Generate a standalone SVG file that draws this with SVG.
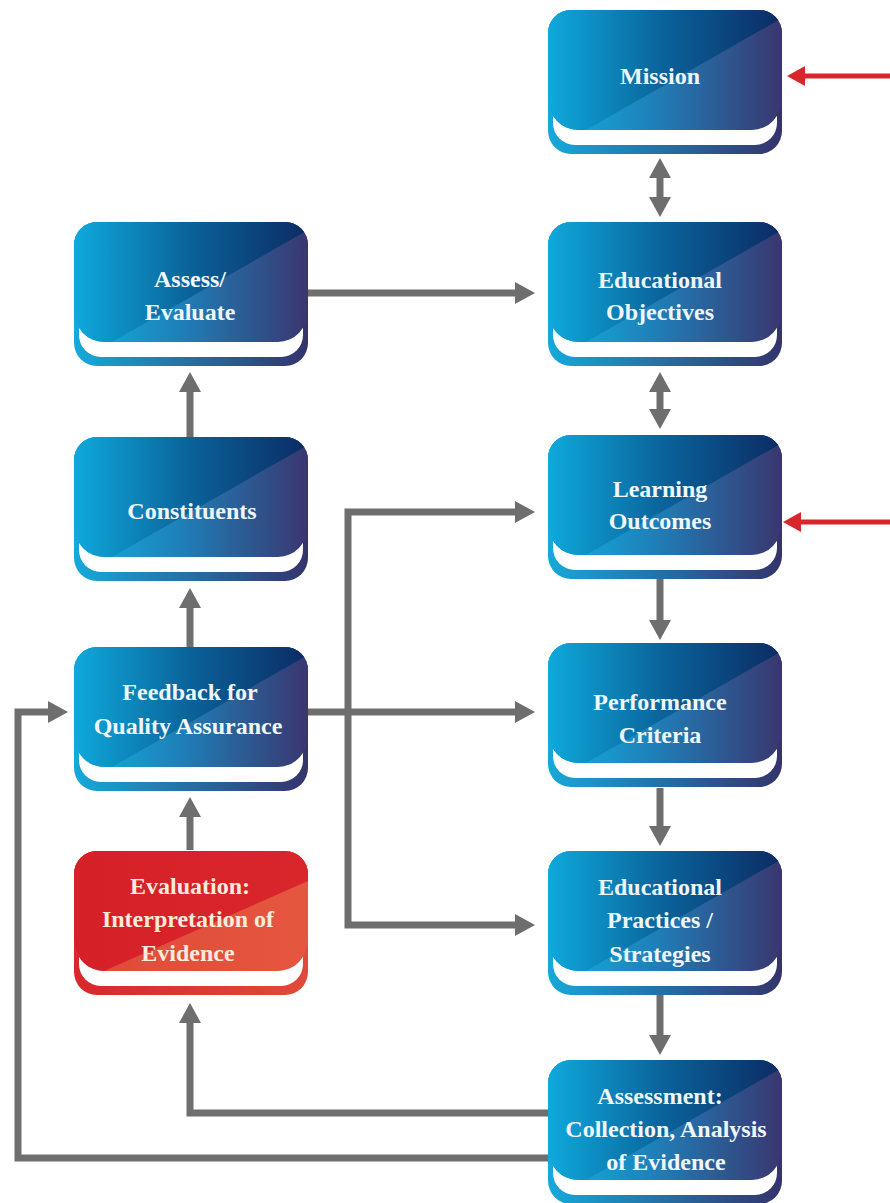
<svg xmlns="http://www.w3.org/2000/svg" xmlns:xlink="http://www.w3.org/1999/xlink" width="890" height="1203" viewBox="0 0 890 1203">
  <style>
    .lbl { font-family: "Liberation Serif", "Times New Roman", serif; font-weight: bold; font-size: 24px; text-anchor: middle; }
    .lbl-blue { fill: #eef7fc; }
    .lbl-red { fill: #fcebdc; }
    .flow { fill: none; stroke: #6e6e6e; stroke-width: 7; stroke-linejoin: miter; }
    .flow-red { fill: none; stroke: #d9262b; stroke-width: 5; }
  </style>
  <defs>
    <!-- blue box shading -->
    <linearGradient id="blueRim" x1="0" y1="0" x2="1" y2="0">
      <stop offset="0" stop-color="#16a9da"/>
      <stop offset="1" stop-color="#35336c"/>
    </linearGradient>
    <linearGradient id="blueLow" x1="0" y1="0" x2="1" y2="0">
      <stop offset="0" stop-color="#10b3e1"/>
      <stop offset="0.45" stop-color="#1f80b9"/>
      <stop offset="1" stop-color="#3a366f"/>
    </linearGradient>
    <linearGradient id="blueHigh" x1="0" y1="0" x2="1" y2="0">
      <stop offset="0" stop-color="#0fa9dc"/>
      <stop offset="0.5" stop-color="#0a6299"/>
      <stop offset="1" stop-color="#0c2b64"/>
    </linearGradient>
    <!-- red box shading -->
    <linearGradient id="redRim" x1="0" y1="0" x2="1" y2="0">
      <stop offset="0" stop-color="#d8272c"/>
      <stop offset="1" stop-color="#e04a3a"/>
    </linearGradient>
    <linearGradient id="redLow" x1="0" y1="0" x2="1" y2="0">
      <stop offset="0" stop-color="#df4a3a"/>
      <stop offset="1" stop-color="#e5563f"/>
    </linearGradient>
    <linearGradient id="redHigh" x1="0" y1="0" x2="1" y2="0">
      <stop offset="0" stop-color="#d52027"/>
      <stop offset="1" stop-color="#d9262b"/>
    </linearGradient>

    <!-- face outline: tight top corners, deep bottom corners so the white lip curls up the sides -->
    <path id="faceShape" d="M23,0 H211 A23,23 0 0 1 234,23 V88 A30,32 0 0 1 204,120 H30 A30,32 0 0 1 0,88 V23 A23,23 0 0 1 23,0 Z"/>
    <clipPath id="faceClip">
      <use xlink:href="#faceShape"/>
    </clipPath>

    <!-- box template: rim, white lip, face with diagonal split -->
    <g id="boxBlue">
      <rect width="234" height="144" rx="23" fill="url(#blueRim)"/>
      <rect x="5" y="60" width="224" height="75" rx="22" fill="#ffffff"/>
      <use xlink:href="#faceShape" fill="url(#blueLow)"/>
      <path d="M0,0 H234 V8 L38,120 H0 Z" fill="url(#blueHigh)" clip-path="url(#faceClip)"/>
    </g>
    <g id="boxRed">
      <rect width="234" height="144" rx="23" fill="url(#redRim)"/>
      <rect x="5" y="60" width="224" height="75" rx="22" fill="#ffffff"/>
      <use xlink:href="#faceShape" fill="url(#redLow)"/>
      <path d="M0,0 H234 V30 L30,120 H0 Z" fill="url(#redHigh)" clip-path="url(#faceClip)"/>
    </g>

    <marker id="ah" markerUnits="userSpaceOnUse" viewBox="0 0 20 22" markerWidth="20" markerHeight="22" refX="8" refY="11" orient="auto-start-reverse">
      <path d="M0,0 L20,11 L0,22 Z" fill="#6e6e6e"/>
    </marker>
    <marker id="ahRed" markerUnits="userSpaceOnUse" viewBox="0 0 18 20" markerWidth="18" markerHeight="20" refX="6" refY="10" orient="auto">
      <path d="M0,0 L18,10 L0,20 Z" fill="#d9262b"/>
    </marker>
  </defs>

  <rect width="890" height="1203" fill="#ffffff"/>

  <!-- connectors -->
  <g id="connectors">
    <line class="flow" x1="660" y1="170" x2="660" y2="205" marker-start="url(#ah)" marker-end="url(#ah)"/>
    <line class="flow" x1="660" y1="384" x2="660" y2="417" marker-start="url(#ah)" marker-end="url(#ah)"/>
    <path class="flow" d="M660,578 V628" marker-end="url(#ah)"/>
    <path class="flow" d="M660,788 V834" marker-end="url(#ah)"/>
    <path class="flow" d="M660,995 V1043" marker-end="url(#ah)"/>
    <path class="flow" d="M308,293 H523" marker-end="url(#ah)"/>
    <path class="flow" d="M190,437 V384" marker-end="url(#ah)"/>
    <path class="flow" d="M190,647 V600" marker-end="url(#ah)"/>
    <path class="flow" d="M190,850 V809" marker-end="url(#ah)"/>
    <path class="flow" d="M308,712 H523" marker-end="url(#ah)"/>
    <path class="flow" d="M523,512 H348 V925 H523" marker-start="url(#ah)" marker-end="url(#ah)"/>
    <path class="flow" d="M548,1113 H190 V1015" marker-end="url(#ah)"/>
    <path class="flow" d="M548,1158 H18 V712 H56" marker-end="url(#ah)"/>
    <path class="flow-red" d="M890,76 H799" marker-end="url(#ahRed)"/>
    <path class="flow-red" d="M890,522 H795" marker-end="url(#ahRed)"/>
  </g>

  <!-- right column -->
  <g id="mission">
    <use xlink:href="#boxBlue" transform="translate(548,10)"/>
    <text class="lbl lbl-blue" x="660" y="84">Mission</text>
  </g>
  <g id="educational-objectives">
    <use xlink:href="#boxBlue" transform="translate(548,222)"/>
    <text class="lbl lbl-blue" x="660" y="288">Educational</text>
    <text class="lbl lbl-blue" x="660" y="320">Objectives</text>
  </g>
  <g id="learning-outcomes">
    <use xlink:href="#boxBlue" transform="translate(548,435)"/>
    <text class="lbl lbl-blue" x="660" y="497">Learning</text>
    <text class="lbl lbl-blue" x="660" y="529">Outcomes</text>
  </g>
  <g id="performance-criteria">
    <use xlink:href="#boxBlue" transform="translate(548,643)"/>
    <text class="lbl lbl-blue" x="660" y="710">Performance</text>
    <text class="lbl lbl-blue" x="660" y="743">Criteria</text>
  </g>
  <g id="educational-practices">
    <use xlink:href="#boxBlue" transform="translate(548,851)"/>
    <text class="lbl lbl-blue" x="660" y="895">Educational</text>
    <text class="lbl lbl-blue" x="660" y="928">Practices /</text>
    <text class="lbl lbl-blue" x="660" y="962">Strategies</text>
  </g>
  <g id="assessment">
    <use xlink:href="#boxBlue" transform="translate(548,1060)"/>
    <text class="lbl lbl-blue" x="660" y="1104">Assessment:</text>
    <text class="lbl lbl-blue" x="666" y="1137">Collection, Analysis</text>
    <text class="lbl lbl-blue" x="666" y="1170">of Evidence</text>
  </g>

  <!-- left column -->
  <g id="assess-evaluate">
    <use xlink:href="#boxBlue" transform="translate(74,222)"/>
    <text class="lbl lbl-blue" x="190" y="287">Assess/</text>
    <text class="lbl lbl-blue" x="190" y="320">Evaluate</text>
  </g>
  <g id="constituents">
    <use xlink:href="#boxBlue" transform="translate(74,437)"/>
    <text class="lbl lbl-blue" x="192" y="519">Constituents</text>
  </g>
  <g id="feedback">
    <use xlink:href="#boxBlue" transform="translate(74,647)"/>
    <text class="lbl lbl-blue" x="190" y="700">Feedback for</text>
    <text class="lbl lbl-blue" x="188" y="734">Quality Assurance</text>
  </g>
  <g id="evaluation">
    <use xlink:href="#boxRed" transform="translate(74,851)"/>
    <text class="lbl lbl-red" x="190" y="894">Evaluation:</text>
    <text class="lbl lbl-red" x="188" y="927">Interpretation of</text>
    <text class="lbl lbl-red" x="188" y="961">Evidence</text>
  </g>
</svg>
